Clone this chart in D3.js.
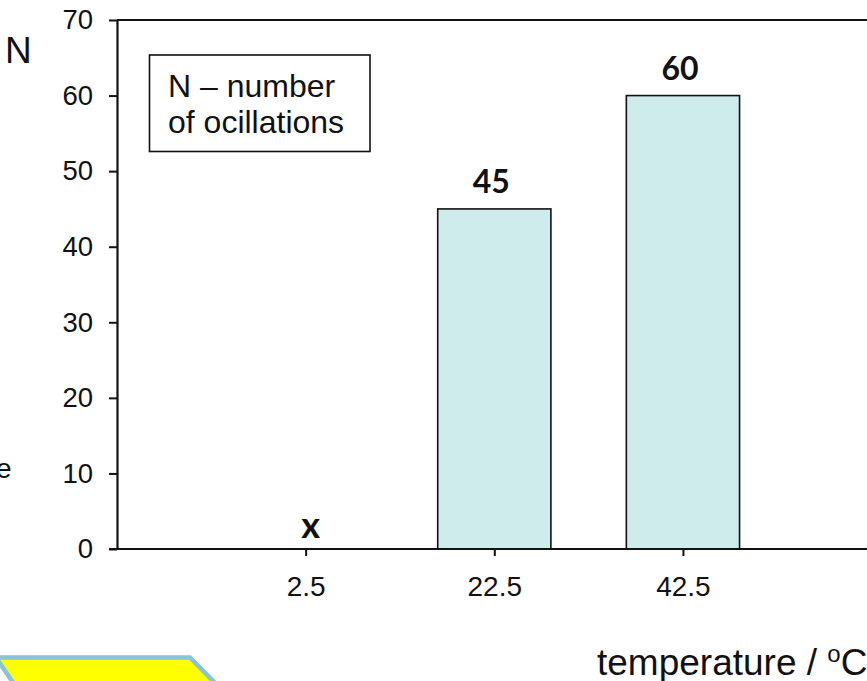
<!DOCTYPE html>
<html>
<head>
<meta charset="utf-8">
<script src="https://cdn.jsdelivr.net/npm/d3@7"></script>
<style>
  html, body { margin: 0; padding: 0; background: #ffffff; overflow: hidden; }
  svg { display: block; }
</style>
</head>
<body>
<svg id="chart" width="867" height="681"></svg>
<script>
// ---- data ----
const temperatures = [2.5, 22.5, 42.5];
const oscillations = [null, 45, 60];
const valueLabels = ["x", "45", "60"];
const yTicks = [0, 10, 20, 30, 40, 50, 60, 70];
const xTickLabels = ["2.5", "22.5", "42.5"];
const yAxisTitle = "N";
const xAxisTitle = "temperature / ";
const legendLines = ["N \u2013 number", "of ocillations"];

const svg = d3.select("#chart");
const W = 867, H = 681;

const x = d3.scaleLinear().domain([-17.5, 82.5]).range([117, 117 + 100 * 9.4325]);
const y = d3.scaleLinear().domain([0, 70]).range([549, 20]);
const barW = x(12) - x(0);

const data = temperatures.map((t, i) => ({ t, v: oscillations[i], label: valueLabels[i], tick: xTickLabels[i] }));

// bars
svg.append("g").selectAll("rect")
  .data(data.filter(d => d.v != null))
  .join("rect")
  .attr("x", d => x(d.t) - barW / 2)
  .attr("y", d => y(d.v))
  .attr("width", barW)
  .attr("height", d => y(0) - y(d.v))
  .attr("fill", "#cfeced")
  .attr("stroke", "#111")
  .attr("stroke-width", 1.6);

// top border of plot area
svg.append("line")
  .attr("x1", x(-17.5)).attr("x2", W)
  .attr("y1", y(70)).attr("y2", y(70))
  .attr("stroke", "#111").attr("stroke-width", 2.2);

// y axis
const yAxis = svg.append("g")
  .attr("transform", `translate(${x(-17.5)},0)`)
  .call(d3.axisLeft(y).tickValues(yTicks).tickSize(8).tickPadding(16).tickSizeOuter(0));
yAxis.select(".domain").attr("stroke", "#111").attr("stroke-width", 2.2);
yAxis.selectAll(".tick line").attr("stroke", "#111").attr("stroke-width", 2);
yAxis.selectAll(".tick text")
  .attr("font-family", "Liberation Sans, Arial, sans-serif")
  .attr("font-size", 27.5).attr("fill", "#111");

// x axis
const xAxis = svg.append("g")
  .attr("transform", `translate(0,${y(0)})`)
  .call(d3.axisBottom(x).tickValues(temperatures)
    .tickFormat((d, i) => xTickLabels[i]).tickSize(7).tickPadding(20).tickSizeOuter(0));
xAxis.select(".domain").remove();
xAxis.append("line")
  .attr("x1", x(-17.5) - 8).attr("x2", W)
  .attr("y1", 0).attr("y2", 0)
  .attr("stroke", "#111").attr("stroke-width", 2.2);
xAxis.selectAll(".tick line").attr("stroke", "#111").attr("stroke-width", 2);
xAxis.selectAll(".tick text")
  .attr("font-family", "Liberation Sans, Arial, sans-serif")
  .attr("font-size", 28).attr("fill", "#111");

// value labels
svg.append("g").selectAll("text")
  .data(data)
  .join("text")
  .attr("x", d => x(d.t) + (d.v == null ? 5 : -3))
  .attr("y", d => y(d.v == null ? 0 : d.v) - (d.v == null ? 11 : 16))
  .attr("text-anchor", "middle")
  .attr("font-family", "Lato, 'Noto Sans', sans-serif")
  .attr("font-weight", 700)
  .attr("font-size", d => d.v == null ? 36 : 32)
  .attr("fill", "#111")
  .text(d => d.label);

// y axis title
svg.append("text")
  .attr("x", 5).attr("y", 63)
  .attr("font-family", "Liberation Sans, Arial, sans-serif")
  .attr("font-size", 37).attr("fill", "#111")
  .text(yAxisTitle);

// x axis title
const xt = svg.append("text")
  .attr("x", 597).attr("y", 675)
  .attr("font-family", "Liberation Sans, Arial, sans-serif")
  .attr("font-size", 37).attr("fill", "#111");
xt.append("tspan").text(xAxisTitle);
xt.append("tspan").attr("font-size", 24).attr("dy", -13).text("o");
xt.append("tspan").attr("dy", 13).text("C");

// legend box
const lg = svg.append("g");
lg.append("rect")
  .attr("x", 149.5).attr("y", 55).attr("width", 220.5).attr("height", 96.5)
  .attr("fill", "#fff").attr("stroke", "#111").attr("stroke-width", 1.6);
lg.selectAll("text")
  .data(legendLines)
  .join("text")
  .attr("x", 168).attr("y", (d, i) => 97 + i * 36)
  .attr("font-family", "Liberation Sans, Arial, sans-serif")
  .attr("font-size", 32).attr("fill", "#111")
  .text(d => d);

// clipped fragment of text at left edge
svg.append("text")
  .attr("x", -4).attr("y", 478)
  .attr("font-family", "Liberation Sans, Arial, sans-serif")
  .attr("font-size", 28).attr("fill", "#111")
  .text("e");

// decorative yellow banner at bottom-left
svg.append("path")
  .attr("d", "M -4 657.5 L 190 657.5 L 216 684 L 14 684 Z")
  .attr("fill", "#ffff00")
  .attr("stroke", "#87c4da")
  .attr("stroke-width", 4.5);
</script>
</body>
</html>
